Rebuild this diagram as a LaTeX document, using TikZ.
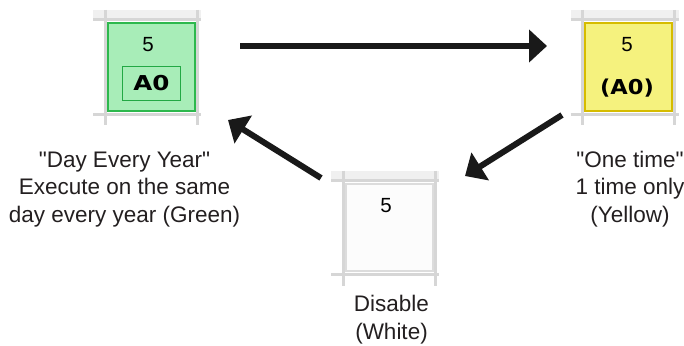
\documentclass[tikz,border=0pt]{standalone}
\usepackage{fontspec}
\setmainfont{Liberation Sans}
\newfontfamily\tilefont{DejaVu Sans}
\usetikzlibrary{arrows.meta}
\definecolor{gfill}{HTML}{A8EDB8}
\definecolor{gline}{HTML}{2DB84D}
\definecolor{gdark}{HTML}{22A844}
\definecolor{yfill}{HTML}{F5F27E}
\definecolor{yline}{HTML}{D6BC00}
\definecolor{wfill}{HTML}{FCFCFC}
\definecolor{wline}{HTML}{DCDCDC}
\definecolor{gridc}{HTML}{D6D6D6}
\definecolor{stripc}{HTML}{F0F0F0}
\definecolor{txt}{HTML}{231F20}
\tikzset{
  cellbox/.style={draw, line width=2pt, minimum width=87pt, minimum height=87pt, inner sep=0pt},
  daynum/.style={font=\fontsize{20.5}{20.5}\selectfont, text=black, inner sep=0pt},
  codetext/.style={font=\tilefont\bfseries\fontsize{20.5}{20.5}\selectfont, text=black, inner sep=0pt},
  codebox/.style={draw=gdark, fill=gfill, line width=1.6pt, minimum width=58pt, minimum height=34pt, inner sep=0pt},
  caption/.style={font=\fontsize{22.5}{27.5}\selectfont, text=txt, align=center, inner sep=0pt, anchor=base},
  bigarrow/.style={line width=6pt, -{Triangle[length=18pt,width=32pt]}, black!90}
}
\newcommand\gridfrag[2]{%
  \fill[stripc] (#1-58,#2-57) rectangle (#1+50,#2-48);
  \draw[gridc, line width=3pt] (#1-46,#2-57) -- (#1-46,#2+58);
  \draw[gridc, line width=3pt] (#1+46,#2-57) -- (#1+46,#2+58);
  \draw[gridc, line width=3pt] (#1-58,#2-47) -- (#1+50,#2-47);
  \draw[gridc, line width=3pt] (#1-58,#2+47) -- (#1+50,#2+47);
}
\begin{document}
\begin{tikzpicture}[x=1pt,y=-1pt]
\useasboundingbox (0,0) rectangle (684,345);
% tiles
\gridfrag{151}{67}
\gridfrag{628.5}{67}
\gridfrag{389}{227.5}
\node[cellbox, draw=gline, fill=gfill] (gcell) at (151,67) {};
\node[cellbox, draw=yline, fill=yfill] (ycell) at (628.5,67) {};
\node[cellbox, draw=wline, fill=wfill] (wcell) at (389,227.5) {};
\node[daynum] (gnum) at (148,45) {5};
\node[daynum] (ynum) at (627,45) {5};
\node[daynum] (wnum) at (386,205.5) {5};
\node[codebox] (gcode) at (151.5,83.5) {};
\node[codetext] (gcodet) at (151.5,83.5) {\scalebox{1.2}[1]{A0}};
\node[codetext] (ycodet) at (627,88) {\scalebox{1.1}[1]{(A0)}};
% captions
\node[caption] (gcap) at (124.5,222) {\textquotedbl Day Every Year\textquotedbl\\Execute on the same\\day every year (Green)};
\node[caption] (ycap) at (630,222) {\textquotedbl One time\textquotedbl\\1 time only\\(Yellow)};
\node[caption] (wcap) at (391.5,339) {Disable\\(White)};
% arrows
\coordinate (a1s) at (240,46);
\coordinate (a1e) at (547,46);
\coordinate (a2s) at (562,115);
\coordinate (a2e) at (465,176);
\coordinate (a3s) at (321,178);
\coordinate (a3e) at (228,120);
\draw[bigarrow] (a1s) -- (a1e);
\draw[bigarrow] (a2s) -- (a2e);
\draw[bigarrow] (a3s) -- (a3e);
\end{tikzpicture}
\end{document}
